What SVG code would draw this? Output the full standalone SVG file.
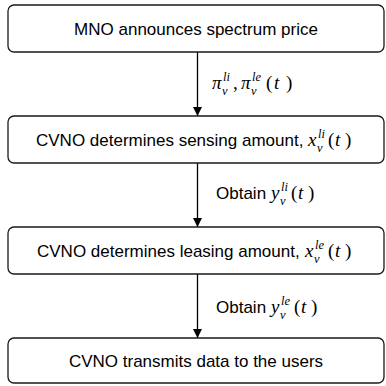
<svg xmlns="http://www.w3.org/2000/svg" width="386" height="386" viewBox="0 0 386 386">
  <defs>
    <marker id="arrow" viewBox="0 0 10 10" refX="10" refY="5" markerWidth="9" markerHeight="9" markerUnits="userSpaceOnUse" orient="auto">
      <path d="M0,0 L10,5 L0,10 z" fill="#000"/>
    </marker>
    <style>
      .box rect { fill: #fff; stroke: #1a1a1a; stroke-width: 1.3; }
      .t { font-family: "Liberation Sans", Arial, sans-serif; font-size: 17px; fill: #000; }
      .c { text-anchor: middle; }
      .edge { stroke: #000; stroke-width: 1.3; fill: none; marker-end: url(#arrow); }
      .m { font-family: "Liberation Serif", "Times New Roman", serif; font-style: italic; font-size: 19px; fill: #000; }
      .mr { font-family: "Liberation Serif", "Times New Roman", serif; font-size: 19px; fill: #000; }
      .s { font-family: "Liberation Serif", "Times New Roman", serif; font-style: italic; font-size: 12.5px; fill: #000; }
    </style>
  </defs>

  <!-- connectors and their labels -->
  <g id="connectors">
    <line class="edge" x1="197.5" y1="52" x2="197.5" y2="116"/>
    <line class="edge" x1="197.5" y1="163" x2="197.5" y2="227"/>
    <line class="edge" x1="197.5" y1="274" x2="197.5" y2="338"/>

    <!-- price signal -->
    <g id="label-price">
      <text class="m" x="212" y="89">π</text>
      <text class="s" x="223" y="81">li</text>
      <text class="s" x="222" y="95">v</text>
      <text class="mr" x="233" y="89">,</text>
      <text class="m" x="241" y="89">π</text>
      <text class="s" x="252" y="81">le</text>
      <text class="s" x="251" y="95">v</text>
      <text class="mr" x="266" y="89">(</text>
      <text class="m" x="274" y="89">t</text>
      <text class="mr" x="286" y="89">)</text>
    </g>

    <g id="label-yli">
      <text class="t" x="216" y="199">Obtain</text>
      <text class="m" x="271" y="199">y</text>
      <text class="s" x="281" y="191">li</text>
      <text class="s" x="280" y="205">v</text>
      <text class="mr" x="291" y="199">(</text>
      <text class="m" x="298" y="199">t</text>
      <text class="mr" x="308" y="199">)</text>
    </g>

    <g id="label-yle">
      <text class="t" x="216" y="313">Obtain</text>
      <text class="m" x="271" y="313">y</text>
      <text class="s" x="281" y="305">le</text>
      <text class="s" x="280" y="319">v</text>
      <text class="mr" x="294" y="313">(</text>
      <text class="m" x="301" y="313">t</text>
      <text class="mr" x="311" y="313">)</text>
    </g>
  </g>

  <g id="mno-price" class="box">
    <rect x="8" y="5" width="376" height="47" rx="6"/>
    <text class="t c" x="196" y="34.5">MNO announces spectrum price</text>
  </g>

  <g id="cvno-sensing" class="box">
    <rect x="8" y="116" width="376" height="47" rx="6"/>
    <text class="t" x="36" y="145.5">CVNO determines sensing amount,</text>
    <text class="m" x="308" y="145.5">x</text>
    <text class="s" x="318" y="137.5">li</text>
    <text class="s" x="317" y="151.5">v</text>
    <text class="mr" x="328" y="145.5">(</text>
    <text class="m" x="335" y="145.5">t</text>
    <text class="mr" x="345" y="145.5">)</text>
  </g>

  <g id="cvno-leasing" class="box">
    <rect x="8" y="227" width="376" height="47" rx="6"/>
    <text class="t" x="37" y="256.5">CVNO determines leasing amount,</text>
    <text class="m" x="305" y="256.5">x</text>
    <text class="s" x="315" y="248.5">le</text>
    <text class="s" x="314" y="262.5">v</text>
    <text class="mr" x="328" y="256.5">(</text>
    <text class="m" x="335" y="256.5">t</text>
    <text class="mr" x="345" y="256.5">)</text>
  </g>

  <g id="cvno-transmit" class="box">
    <rect x="8" y="338" width="376" height="45" rx="6"/>
    <text class="t c" x="196" y="366.5">CVNO transmits data to the users</text>
  </g>
</svg>
